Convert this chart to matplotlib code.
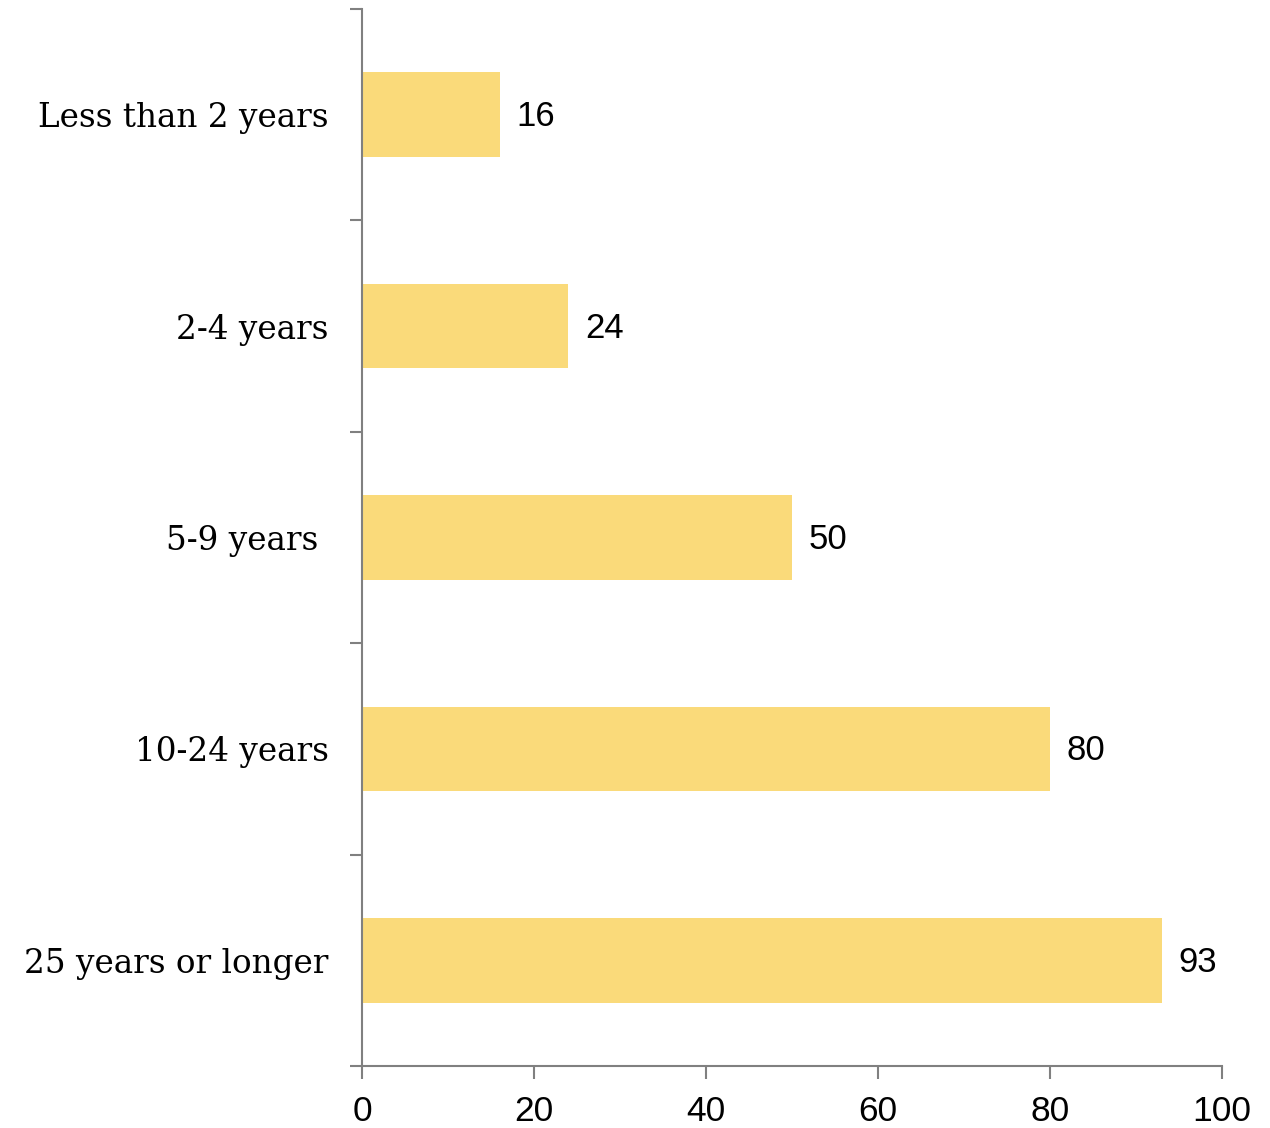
import matplotlib.pyplot as plt

categories = ['Less than 2 years', '2-4 years', '5-9 years ', '10-24 years', '25 years or longer']
values = [16, 24, 50, 80, 93]
x_ticks = [0, 20, 40, 60, 80, 100]

bar_color = '#FADA7A'
axis_color = '#808080'
label_font = 'DejaVu Serif'
num_font = 'Liberation Sans'

fig = plt.figure(figsize=(12.7, 11.28), dpi=100)
ax = fig.add_axes([0.285, 0.055, 0.677, 0.937])

pos = list(range(len(categories)))
ax.barh(pos, values, height=0.4, color=bar_color)
ax.set_ylim(len(categories) - 0.5, -0.5)
ax.set_xlim(0, 100)

# category boundaries carry the ticks, labels sit at bar centres
ax.set_yticks([p - 0.5 for p in pos] + [len(pos) - 0.5])
ax.set_yticklabels([])
ax.set_yticks(pos, minor=True)
ax.set_yticklabels(categories, minor=True, fontfamily=label_font, fontsize=23.5)
ax.tick_params(axis='y', which='minor', length=0, pad=24)
ax.tick_params(axis='y', which='major', length=9, width=1.5, color=axis_color)

ax.set_xticks(x_ticks)
ax.set_xticklabels([str(t) for t in x_ticks], fontfamily=num_font, fontsize=25.5)
ax.tick_params(axis='x', length=9, width=1.5, color=axis_color, pad=12)

for s in ['top', 'right']:
    ax.spines[s].set_visible(False)
for s in ['left', 'bottom']:
    ax.spines[s].set_color(axis_color)
    ax.spines[s].set_linewidth(1.5)

for p, v in zip(pos, values):
    ax.annotate(str(v), (v, p), xytext=(12, -1.5), textcoords='offset points',
                va='center', ha='left', fontfamily=num_font, fontsize=25)

fig.savefig('out.png')
